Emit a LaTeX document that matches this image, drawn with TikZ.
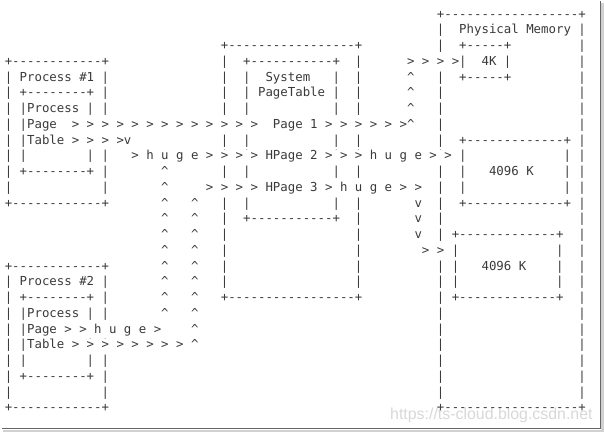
\documentclass[tikz,border=0pt]{standalone}
\usepackage{fontspec}
\setmonofont{DejaVu Sans Mono}
\newfontfamily\markfont{Liberation Sans}
\usepackage{tikz}
\definecolor{ink}{RGB}{58,58,58}
\definecolor{wmark}{RGB}{216,216,216}
\newcommand{\asciifont}{\ttfamily\fontsize{12.375pt}{15.75pt}\selectfont}
\newcommand{\upmark}{\textasciicircum}

\begin{document}
\begin{tikzpicture}[x=7.45pt, y=-15.75pt,
  glyph/.style={inner sep=0pt, anchor=base west, font=\asciifont, text=ink},
  run/.style={glyph, fill=white, text height=10pt, text depth=3.3pt}]
  \useasboundingbox (0pt,0pt) rectangle (604pt,-432pt);
  % screenshot frame shadow
  \fill[black!18] (601pt,-3pt) rectangle (604pt,-432pt);
  \fill[black!18] (3pt,-429.5pt) rectangle (604pt,-432pt);
  \draw[black!60, line width=1.2pt] (2pt,-428.6pt) -- (600.6pt,-428.6pt) -- (600.6pt,-1pt);
  \node[font=\markfont\fontsize{15.9pt}{16pt}\selectfont, text=wmark, anchor=base west, inner sep=0pt]
    (watermark) at (390pt,-419pt) {https://ts-cloud.blog.csdn.net};
  \begin{scope}[shift={(4.575pt,-18pt)}]
  % box of ascii characters: name, left col, top row, right col, bottom row
  \newcommand{\asciibox}[5]{%
    \pgfmathtruncatemacro\bxl{#2+1}\pgfmathtruncatemacro\bxr{#4-1}%
    \pgfmathtruncatemacro\bxt{#3+1}\pgfmathtruncatemacro\bxb{#5-1}%
    \foreach \x in {\bxl,...,\bxr}{
      \node[glyph] (#1-n\x) at (\x,#3) {-};
      \node[glyph] (#1-s\x) at (\x,#5) {-};
    }
    \foreach \y in {\bxt,...,\bxb}{
      \node[glyph] (#1-w\y) at (#2,\y) {|};
      \node[glyph] (#1-e\y) at (#4,\y) {|};
    }
    \foreach \x/\y/\k in {#2/#3/nw,#4/#3/ne,#2/#5/sw,#4/#5/se}
      \node[glyph] (#1-\k) at (\x,\y) {+};
  }
  \asciibox{phys}{58}{0}{77}{25}
  \asciibox{sys}{29}{2}{47}{18}
  \asciibox{sysin}{32}{3}{44}{13}
  \asciibox{proca}{0}{3}{13}{12}
  \asciibox{tabla}{2}{5}{11}{10}
  \asciibox{procb}{0}{16}{13}{25}
  \asciibox{tablb}{2}{18}{11}{23}
  \asciibox{small}{61}{2}{67}{4}
  \asciibox{hugea}{61}{8}{75}{12}
  \asciibox{hugeb}{60}{14}{74}{18}
  % labels
  \foreach \x/\y/\t/\n in {61/1/Physical Memory/phys-t, 35/4/System/sys-t, 34/5/PageTable/sys-u,
      2/4/Process \#1/proca-t, 3/6/Process/tabla-t, 3/7/Page/tabla-u, 3/8/Table/tabla-v,
      2/17/Process \#2/procb-t, 3/19/Process/tablb-t, 3/20/Page/tablb-u, 3/21/Table/tablb-v,
      64/3/4K/small-t, 65/10/4096 K/hugea-t, 64/16/4096 K/hugeb-t}
    \node[glyph] (\n) at (\x,\y) {\t};
  % arrow runs
  \foreach \x/\y/\t/\n in {9/7/> > > > > > > > > > > > >/runa, 36/7/Page 1 > > > > > >\upmark/runb,
      9/8/> > > >v/runc, 17/9/> h u g e > > > > HPage 2 > > > h u g e > >/rund,
      27/11/> > > > HPage 3 > h u g e > >/rune, 54/3/> > > >/runf, 56/15/> >/rung,
      8/20/> > h u g e >/runh, 9/21/> > > > > > > > \upmark/runi}
    \node[run] (\n) at (\x,\y) {\t};
  \foreach \y in {4,5,6}
    \node[glyph] (upc\y) at (54,\y) {\upmark};
  \foreach \y in {10,...,19}
    \node[glyph] (upa\y) at (21,\y) {\upmark};
  \foreach \y in {12,...,20}
    \node[glyph] (upb\y) at (25,\y) {\upmark};
  \foreach \y in {12,13,14}
    \node[glyph] (down\y) at (55,\y) {v};
  \end{scope}
\end{tikzpicture}
\end{document}
